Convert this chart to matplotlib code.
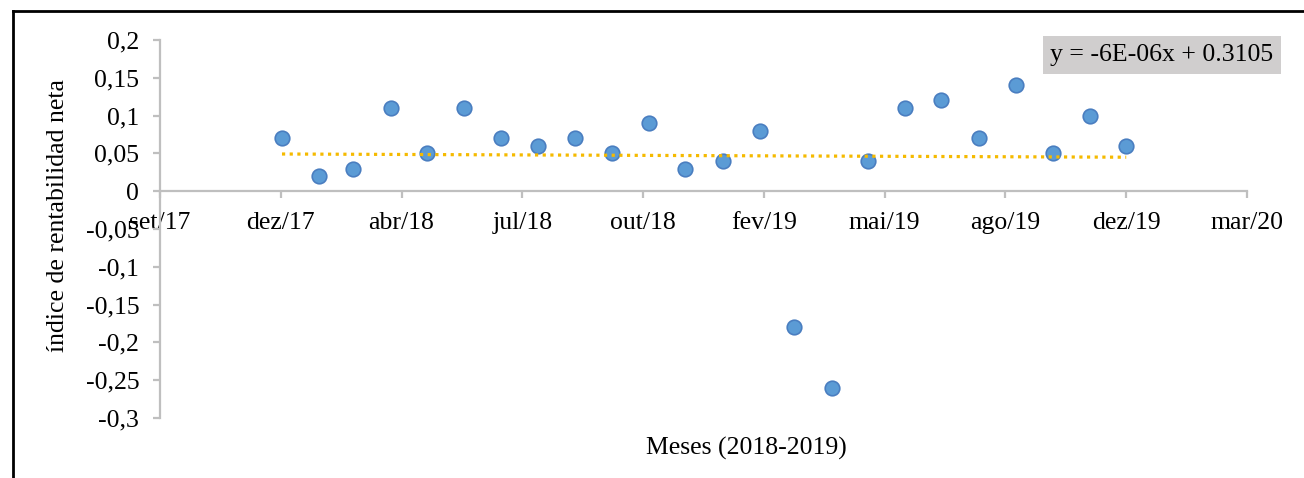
import matplotlib
matplotlib.use('Agg')
from matplotlib import pyplot as plt
from matplotlib.lines import Line2D
import numpy as np
import pandas as pd

# Data (monthly net profitability index, 2018-2019)
months = pd.date_range('2018-01-01', '2019-12-01', freq='MS')
values = [0.07, 0.02, 0.03, 0.11, 0.05, 0.11, 0.07, 0.06, 0.07, 0.05, 0.09, 0.03,
          0.04, 0.08, -0.18, -0.26, 0.04, 0.11, 0.12, 0.07, 0.14, 0.05, 0.10, 0.06]

# Excel style date axis (serial numbers, major unit 100 days)
tick_serials = [43000, 43100, 43200, 43300, 43400, 43500, 43600, 43700, 43800, 43900]
tick_labels = ['set/17', 'dez/17', 'abr/18', 'jul/18', 'out/18',
               'fev/19', 'mai/19', 'ago/19', 'dez/19', 'mar/20']
y_ticks = [0.2, 0.15, 0.1, 0.05, 0, -0.05, -0.1, -0.15, -0.2, -0.25, -0.3]
y_labels = ['0,2', '0,15', '0,1', '0,05', '0', '-0,05', '-0,1', '-0,15', '-0,2', '-0,25', '-0,3']
equation = 'y = -6E-06x + 0.3105'

excel0 = pd.Timestamp('1899-12-30')
x = np.array([(m - excel0).days for m in months], dtype=float)
y = np.array(values)

plt.rcParams['font.family'] = ['Liberation Serif', 'DejaVu Serif']
plt.rcParams['font.size'] = 18.5

fig = plt.figure(figsize=(13.04, 4.78), dpi=100)
ax = fig.add_axes([160 / 1304, 1 - 418 / 478, (1247 - 160) / 1304, (418 - 40) / 478])

ax.scatter(x, y, s=110, color='#5B9BD5', edgecolors='#4A7EC0', linewidths=1.2, zorder=3)

# linear trend line
coef = np.polyfit(x, y, 1)
xt = np.array([x.min(), x.max()])
ax.plot(xt, np.polyval(coef, xt), color='#F5BA00', lw=2.3,
        linestyle=(0, (1, 1.4)), zorder=4)

ax.set_xlim(tick_serials[0], tick_serials[-1])
ax.set_ylim(-0.3, 0.2)
ax.set_xticks(tick_serials)
ax.set_xticklabels(tick_labels)
ax.set_yticks(y_ticks)
ax.set_yticklabels(y_labels)

gray = '#BFBFBF'
ax.spines['top'].set_visible(False)
ax.spines['right'].set_visible(False)
ax.spines['bottom'].set_position(('data', 0))
for s in ['left', 'bottom']:
    ax.spines[s].set_color(gray)
    ax.spines[s].set_linewidth(1.6)
ax.tick_params(axis='both', colors=gray, labelcolor='black', width=1.6, length=5)
ax.tick_params(axis='y', pad=10)
ax.tick_params(axis='x', pad=10)

fig.text(58 / 1304, 1 - 215 / 478, 'índice de rentabilidad neta', rotation=90,
         ha='center', va='center', fontsize=18.5)
fig.text(746 / 1304, 1 - 448 / 478, 'Meses (2018-2019)', ha='center', va='center', fontsize=18.5)

# equation label box
fig.text(1162 / 1304, 1 - 55 / 478, equation, ha='center', va='center', fontsize=18.5,
         bbox=dict(boxstyle='square,pad=0.3', facecolor='#D0CECE', edgecolor='none'))

# outer frame (left and top edges visible)
fig.add_artist(Line2D([12.5 / 1304, 12.5 / 1304], [0, 1 - 10.5 / 478], transform=fig.transFigure,
                      color='black', lw=2))
fig.add_artist(Line2D([12.5 / 1304, 1], [1 - 10.5 / 478, 1 - 10.5 / 478], transform=fig.transFigure,
                      color='black', lw=2, solid_capstyle='projecting'))

fig.savefig('out.png', dpi=100, facecolor='white')
